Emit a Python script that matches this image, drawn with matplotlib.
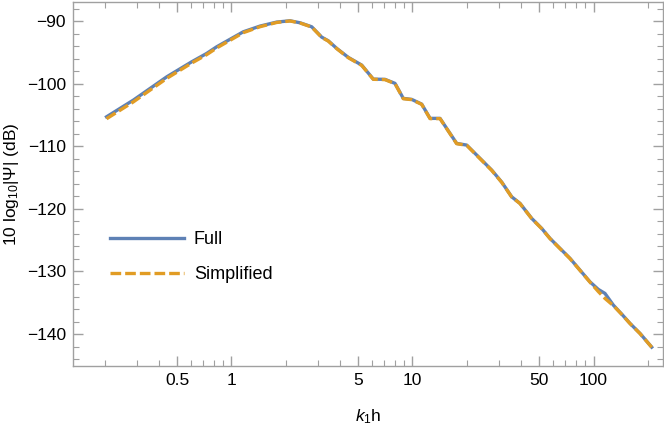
import numpy as np
import matplotlib
matplotlib.use("Agg")
import matplotlib.pyplot as plt
from matplotlib.ticker import FixedLocator, NullFormatter, FixedFormatter

plt.rcParams["font.family"] = ["Liberation Sans", "DejaVu Sans"]
plt.rcParams["mathtext.fontset"] = "custom"
plt.rcParams["mathtext.rm"] = "Liberation Sans"
plt.rcParams["mathtext.it"] = "Liberation Sans:italic"

# values
k1h = [0.204, 0.287, 0.439, 0.603, 0.730, 0.828, 1.162, 1.437, 1.777, 2.105,
       2.39, 2.774, 3.149, 3.426, 3.813, 4.419, 5.241, 6.073, 7.05, 8.006,
       8.896, 9.90, 11.24, 12.50, 14.19, 17.54, 19.93, 24.12, 27.39, 31.11,
       35.32, 39.26, 45.57, 51.74, 57.5, 65.3, 74.2, 84.2, 95.6, 106.3,
       115.7, 128.7, 143.2, 159.1, 180.7, 209.7]
full_db = [-105.29, -102.62, -98.90, -96.50, -95.16, -94.11, -91.71, -90.80, -90.16, -89.95,
           -90.27, -90.91, -92.56, -93.15, -94.36, -95.80, -97.03, -99.27, -99.31, -99.95,
           -102.35, -102.51, -103.26, -105.54, -105.54, -109.54, -109.81, -112.20, -113.80, -115.72,
           -118.07, -119.12, -121.52, -123.12, -124.71, -126.31, -127.91, -129.78, -131.65, -132.86,
           -133.50, -135.37, -136.81, -138.29, -139.89, -142.08]
simp_db = [-105.60, -102.90, -99.15, -96.70, -95.35, -94.30, -91.85, -90.90, -90.22, -89.98,
           -90.30, -90.95, -92.60, -93.20, -94.40, -95.85, -97.08, -99.30, -99.35, -100.00,
           -102.40, -102.55, -103.30, -105.58, -105.58, -109.58, -109.85, -112.25, -113.85, -115.76,
           -118.10, -119.15, -121.55, -123.15, -124.75, -126.35, -127.95, -129.82, -131.70, -133.20,
           -134.30, -135.45, -136.85, -138.32, -139.92, -142.10]

major_x = [0.5, 1, 5, 10, 50, 100]
major_x_labels = ["0.5", "1", "5", "10", "50", "100"]
minor_x = [0.2, 0.3, 0.4, 0.6, 0.7, 0.8, 0.9, 2, 3, 4, 6, 7, 8, 9,
           20, 30, 40, 60, 70, 80, 90, 200]

fig = plt.figure(figsize=(6.64, 4.25), dpi=100)
ax = fig.add_axes([0.1099, 0.1395, 0.8886, 0.8558])

ax.plot(k1h, full_db, color="#5E81B5", lw=2.4, label="Full")
ax.plot(k1h, simp_db, color="#E19C24", lw=2.4, ls=(0, (3.2, 1.2)), label="Simplified")

ax.set_xscale("log")
ax.set_xlim(0.1331, 242.1)
ax.set_ylim(-145.05, -86.95)

ax.xaxis.set_major_locator(FixedLocator(major_x))
ax.xaxis.set_major_formatter(FixedFormatter(major_x_labels))
ax.xaxis.set_minor_locator(FixedLocator(minor_x))
ax.xaxis.set_minor_formatter(NullFormatter())
ax.yaxis.set_major_locator(FixedLocator(np.arange(-140, -85, 10)))
ax.yaxis.set_minor_locator(FixedLocator(np.arange(-144, -86, 2)))
ax.set_yticklabels(["\u2212140", "\u2212130", "\u2212120", "\u2212110", "\u2212100", "\u221290"])

frame_c = "#a0a0a0"
for s in ax.spines.values():
    s.set_color(frame_c)
    s.set_linewidth(1.0)
ax.tick_params(which="both", direction="in", top=True, right=True, color=frame_c,
               labelsize=12.5, labelcolor="black")
ax.tick_params(which="major", length=7, width=1.0, pad=5)
ax.tick_params(which="minor", length=4, width=0.8)

ax.set_xlabel(r"$k_1$h", fontsize=12.5, labelpad=14)
ax.set_ylabel(r"10 log$_{10}$|Ψ| (dB)", fontsize=12.5, labelpad=4)

ax.legend(loc="upper left", bbox_to_anchor=(0.035, 0.415), frameon=False, fontsize=13,
          handlelength=4.1, handletextpad=0.55, labelspacing=1.0)

fig.savefig("out.png", dpi=100)
